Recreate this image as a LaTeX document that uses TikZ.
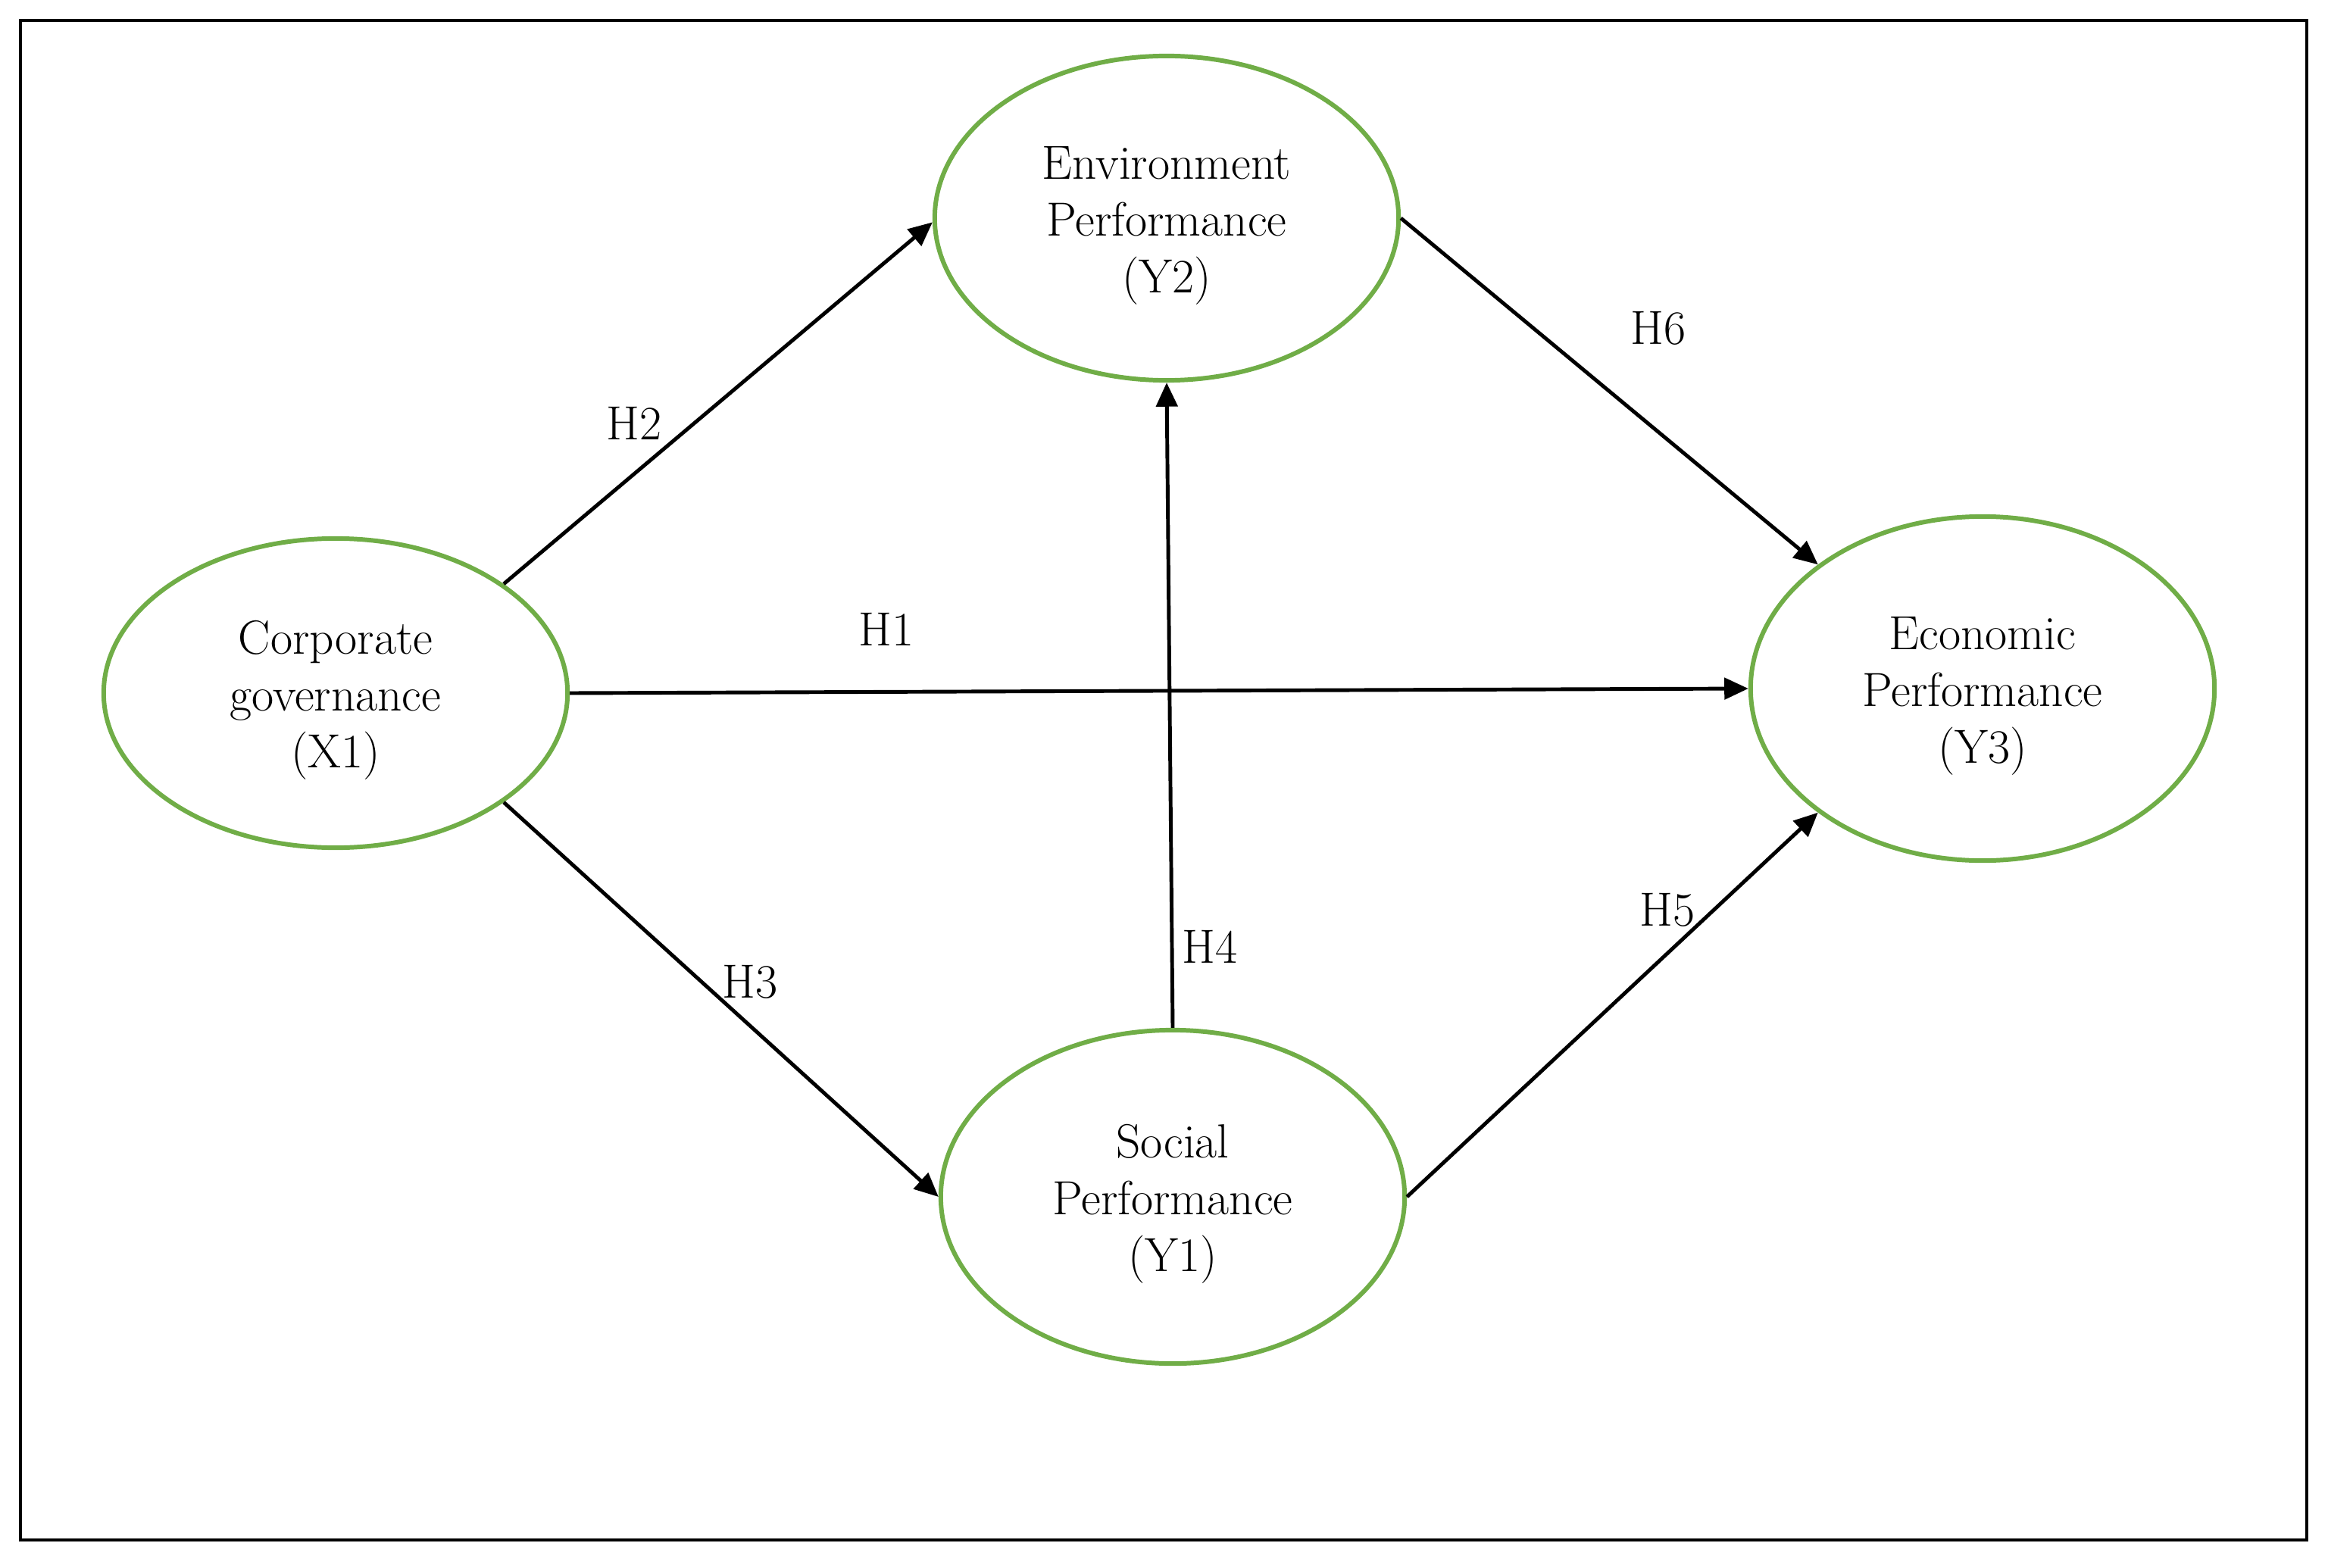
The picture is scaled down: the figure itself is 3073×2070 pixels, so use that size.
\documentclass[tikz,border=0pt]{standalone}
\usetikzlibrary{shapes.geometric,arrows.meta}
\definecolor{egreen}{RGB}{112,173,71}
\begin{document}
\begin{tikzpicture}[x=0.01cm,y=-0.01cm,
  latent/.style={ellipse,draw=egreen,line width=1.7pt,inner sep=0pt,
    minimum width=6.12cm,align=center,font=\fontsize{18}{21.3}\selectfont},
  arr/.style={line width=1.4pt,-{Triangle[length=9pt,width=8pt]}},
  hlab/.style={font=\fontsize{18}{21.3}\selectfont,inner sep=0pt}]
\useasboundingbox (0,0) rectangle (3073,2070);
\draw[line width=1.2pt] (27,27) rectangle (3045,2033);
\node[latent,minimum height=4.08cm] (x1) at (443,915) {\mbox{}\\[-3.3pt]Corporate\\governance\\(X1)};
\node[latent,minimum height=4.28cm] (y2) at (1540,288) {\mbox{}\\[-3.3pt]Environment\\Performance\\(Y2)};
\node[latent,minimum height=4.40cm] (y1) at (1548,1580) {\mbox{}\\[-3.3pt]Social\\Performance\\(Y1)};
\node[latent,minimum height=4.54cm] (y3) at (2617,909) {\mbox{}\\[-3.3pt]Economic\\Performance\\(Y3)};
\draw[arr] (x1.33) -- (y2.181);
\draw[arr] (x1.east) -- (y3.west);
\draw[arr] (x1.-33) -- (y1.west);
\draw[arr] (y1.north) -- (y2.south);
\draw[arr] (y1.east) -- (y3.217);
\draw[arr] (y2.east) -- (y3.143);
\node[hlab] (h2) at (837,559) {H2};
\node[hlab] (h1) at (1170,831) {H1};
\node[hlab] (h3) at (990,1296) {H3};
\node[hlab] (h4) at (1597,1250) {H4};
\node[hlab] (h5) at (2201,1201) {H5};
\node[hlab] (h6) at (2189,433) {H6};
\end{tikzpicture}
\end{document}
